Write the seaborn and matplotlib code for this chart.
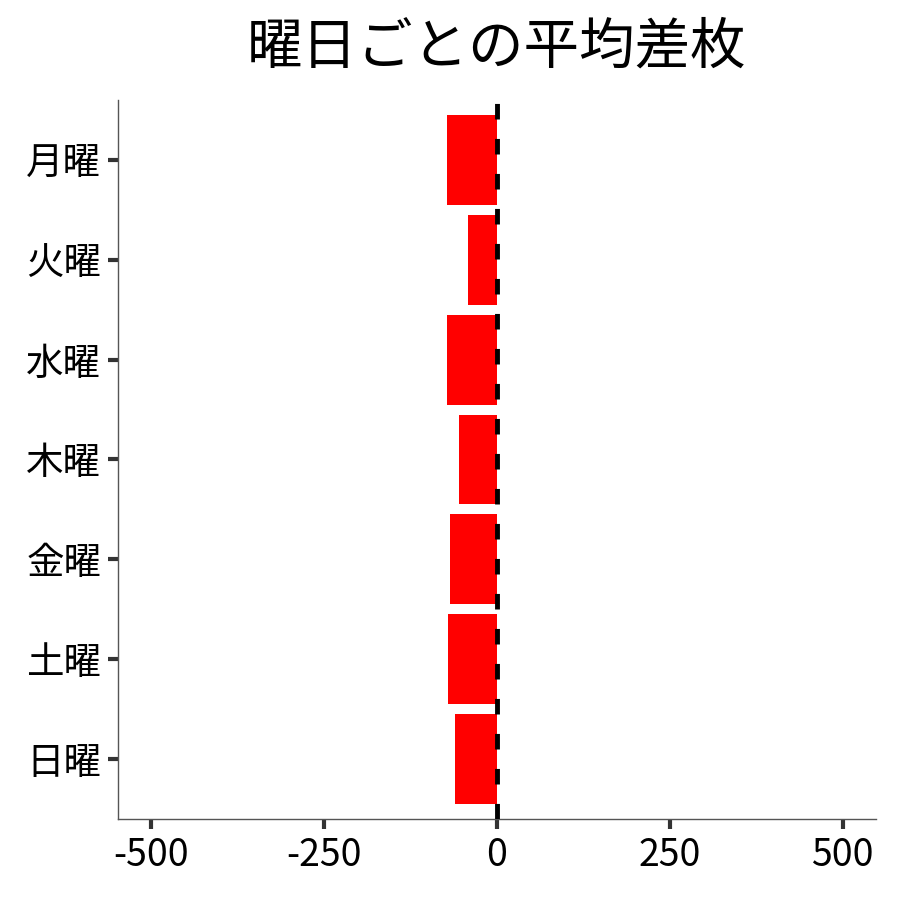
import numpy as np
import pandas as pd
import seaborn as sns
import matplotlib.pyplot as plt

# 曜日ごとの平均差枚
days = ['月曜', '火曜', '水曜', '木曜', '金曜', '土曜', '日曜']
avg_diff = [-72, -41, -72, -54, -67, -70, -60]

df = pd.DataFrame({'day': days, 'diff': avg_diff})

sns.set_theme(style='white')
plt.rcParams['font.family'] = ['Noto Sans CJK JP', 'DejaVu Sans']
plt.rcParams['text.color'] = 'black'
plt.rcParams['xtick.color'] = 'black'
plt.rcParams['ytick.color'] = 'black'

fig, ax = plt.subplots(figsize=(9, 9), dpi=100)
fig.subplots_adjust(left=0.131, right=0.973, bottom=0.09, top=0.889)

sns.barplot(data=df, x='diff', y='day', order=days, color='#ff0000',
            saturation=1, width=0.9, linewidth=0, ax=ax)

# zero line on top of the bars
ax.axvline(0, color='black', linestyle='--', linewidth=3.5, dashes=(3.2, 4.0),
           zorder=10)

ax.set_xlim(-548, 548)
ax.set_ylim(6.6, -0.6)
ax.set_xticks([-500, -250, 0, 250, 500])
ax.set_xticklabels(['-500', '-250', '0', '250', '500'])

ax.set_xlabel('')
ax.set_ylabel('')
ax.set_title('曜日ごとの平均差枚', fontsize=40, pad=26, color='black')

ax.tick_params(axis='both', labelsize=27, length=7, width=3, color='#333333',
               labelcolor='black', left=True, bottom=True, pad=5)

sns.despine(ax=ax)
for side in ['left', 'bottom']:
    ax.spines[side].set_color('#555555')
    ax.spines[side].set_linewidth(1)

fig.savefig('out.png', dpi=100)
